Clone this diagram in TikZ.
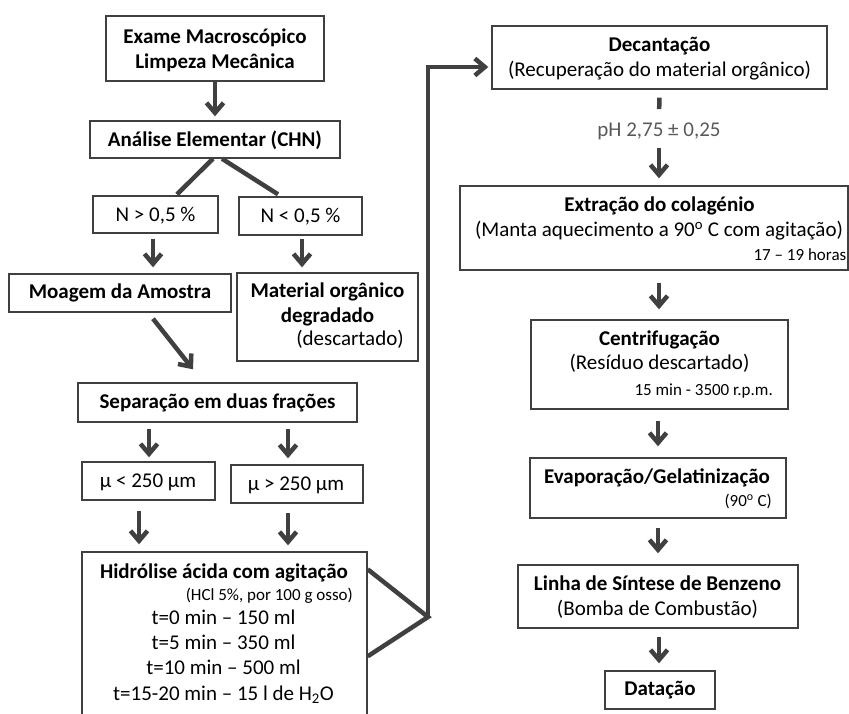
\documentclass[tikz,border=0pt]{standalone}
\usepackage{fontspec}
\setmainfont{Carlito}
\usetikzlibrary{arrows.meta}
\definecolor{ink}{HTML}{404040}
\definecolor{soft}{HTML}{595959}
\begin{document}
\begin{tikzpicture}[x=1pt,y=-1pt,
  box/.style={draw=ink, line width=1.4pt, inner sep=0pt},
  link/.style={draw=ink, line width=4.5pt, line join=miter},
  flow/.style={link, -{Straight Barb[length=10pt,width=17pt]}},
  tx/.style={inner sep=0pt, anchor=base, font=\fontsize{21}{25}\selectfont},
  tb/.style={tx, font=\fontsize{21}{25}\selectfont\bfseries},
  ts/.style={inner sep=0pt, anchor=base east, font=\fontsize{17}{20}\selectfont},
]
\useasboundingbox (0,0) rectangle (849,713);

% ---- left column: boxes ----
\node[box, minimum width=218pt, minimum height=65pt] (exame) at (215,48.5) {};
\node[box, minimum width=250pt, minimum height=37pt] (chn)   at (215,139.5) {};
\node[box, minimum width=125pt, minimum height=37pt] (nhi)   at (155.5,214.5) {};
\node[box, minimum width=123pt, minimum height=38pt] (nlo)   at (300.5,216) {};
\node[box, minimum width=222pt, minimum height=38pt] (moag)  at (120,293) {};
\node[box, minimum width=181pt, minimum height=88pt] (mat)   at (327.5,317) {};
\node[box, minimum width=279pt, minimum height=39pt] (sep)   at (217.5,402.5) {};
\node[box, minimum width=133pt, minimum height=38pt] (mlo)   at (148.5,481) {};
\node[box, minimum width=132pt, minimum height=38pt] (mhi)   at (297,484) {};
\node[box, minimum width=285pt, minimum height=180pt] (hid)  at (224.5,642) {};

% ---- right column: boxes ----
\node[box, minimum width=335pt, minimum height=63pt] (dec) at (659.5,57.5) {};
\node[box, minimum width=388pt, minimum height=84pt] (ext) at (654,228) {};
\node[box, minimum width=257pt, minimum height=89pt] (cen) at (659.5,364.5) {};
\node[box, minimum width=256pt, minimum height=60pt] (eva) at (658,488) {};
\node[box, minimum width=280pt, minimum height=63pt] (lin) at (658,596.5) {};
\node[box, minimum width=110pt, minimum height=38pt] (dat) at (660,690) {};

% ---- texts, left column ----
\node[tb] (exame1) at (215,43.3) {Exame Macroscópico};
\node[tb] (exame2) at (215,68.3) {Limpeza Mecânica};
\node[tb] (chnt) at (215,146.7) {Análise Elementar (CHN)};
\node[tx] (nhit) at (155.5,221.7) {N > 0,5 \%};
\node[tx] (nlot) at (300.5,222.5) {N < 0,5 \%};
\node[tb] (moagt) at (120,298.5) {Moagem da Amostra};
\node[tb] (mat1) at (327.5,297.7) {Material orgânico};
\node[tb] (mat2) at (327.5,322.7) {degradado};
\node[tx] (mat3) at (350,345) {(descartado)};
\node[tb] (sept) at (217.5,408.5) {Separação em duas frações};
\node[tx] (mlot) at (148,487.5) {µ < 250 µm};
\node[tx] (mhit) at (296,490.5) {µ > 250 µm};
\node[tb] (hid1) at (224,578.5) {Hidrólise ácida com agitação};
\node[ts] (hid2) at (353,600) {(HCl 5\%, por 100 g osso)};
\node[tx] (hid3) at (223.5,624.3) {t=0 min – 150 ml};
\node[tx] (hid4) at (223.5,649.3) {t=5 min – 350 ml};
\node[tx] (hid5) at (223.5,674.3) {t=10 min – 500 ml};
\node[tx] (hid6) at (223.5,700) {t=15-20 min – 15 l de H\textsubscript{2}O};

% ---- texts, right column ----
\node[tb] (dec1) at (659.5,51.7) {Decantação};
\node[tx] (dec2) at (659.5,76) {(Recuperação do material orgânico)};
\node[tx, text=soft] (ph) at (659,136) {pH 2,75 ± 0,25};
\node[tb] (ext1) at (659.5,211.7) {Extração do colagénio};
\node[tx] (ext2) at (659,236.7) {(Manta aquecimento a 90\textsuperscript{o} C com agitação)};
\node[ts] (ext3) at (846.5,260) {17 – 19 horas};
\node[tb] (cen1) at (659.5,345) {Centrifugação};
\node[tx] (cen2) at (659.5,369) {(Resíduo descartado)};
\node[ts] (cen3) at (773,395) {15 min - 3500 r.p.m.};
\node[tb] (eva1) at (657,483) {Evaporação/Gelatinização};
\node[ts] (eva2) at (772,506.7) {(90\textsuperscript{o} C)};
\node[tb] (lin1) at (657.5,590) {Linha de Síntese de Benzeno};
\node[tx] (lin2) at (657.5,615) {(Bomba de Combustão)};
\node[tb] (datt) at (660,695.7) {Datação};

% ---- connectors, left column ----
\draw[flow, shorten >=4pt] (exame.south) -- (chn.north);
\draw[link] ([xshift=-2pt]chn.south) -- ([shift={(21.5,-1)}]nhi.north);
\draw[link] ([xshift=7pt]chn.south) -- ([shift={(-22.5,-2)}]nlo.north);
\draw[flow, shorten <=5pt, shorten >=6pt]
  ([xshift=-2.5pt]nhi.south) -- ([xshift=-2.5pt]nhi.south |- moag.north);
\draw[flow, shorten <=3pt, shorten >=5pt]
  ([xshift=1.5pt]nlo.south) -- ([xshift=1.5pt]nlo.south |- mat.north);
\draw[flow] ([shift={(33,6)}]moag.south) -- ([shift={(-24.5,-13)}]sep.north);
\draw[flow, shorten <=6pt, shorten >=4pt]
  ([xshift=-68.5pt]sep.south) -- ([xshift=-68.5pt]sep.south |- mlo.north);
\draw[flow, shorten <=6pt, shorten >=6pt]
  ([xshift=70.5pt]sep.south) -- ([xshift=70.5pt]sep.south |- mhi.north);
\draw[flow, shorten <=10pt, shorten >=7pt]
  ([xshift=-9.5pt]mlo.south) -- ([xshift=-9.5pt]mlo.south |- hid.north);
\draw[flow, shorten <=9pt, shorten >=6pt]
  ([xshift=-9pt]mhi.south) -- ([xshift=-9pt]mhi.south |- hid.north);

% ---- link from the hydrolysis step up to decantation ----
\coordinate (junc) at (428,617);
\coordinate (riser) at (428,67);
\draw[link] ([shift={(0,18)}]hid.north east) -- (junc) -- ([shift={(0,105)}]hid.north east);
\draw[flow, shorten >=3pt] (junc) -- (riser) -- (dec.west |- riser);

% ---- connectors, right column ----
\draw[link, shorten <=8pt, shorten >=13pt] (dec.south) -- (ph.north);
\draw[flow, shorten <=8pt, shorten >=7pt] (ph.south) -- (ph.south |- ext.north);
\draw[flow, shorten <=12pt, shorten >=10pt]
  ([xshift=5pt]ext.south) -- ([xshift=5pt]ext.south |- cen.north);
\draw[flow, shorten <=11pt, shorten >=11pt]
  ([xshift=-1.5pt]cen.south) -- ([xshift=-1.5pt]cen.south |- eva.north);
\draw[flow, shorten <=9pt, shorten >=11pt] (eva.south) -- (lin.north);
\draw[flow, shorten <=8pt, shorten >=7pt]
  ([xshift=1pt]lin.south) -- ([xshift=1pt]lin.south |- dat.north);
\end{tikzpicture}
\end{document}
